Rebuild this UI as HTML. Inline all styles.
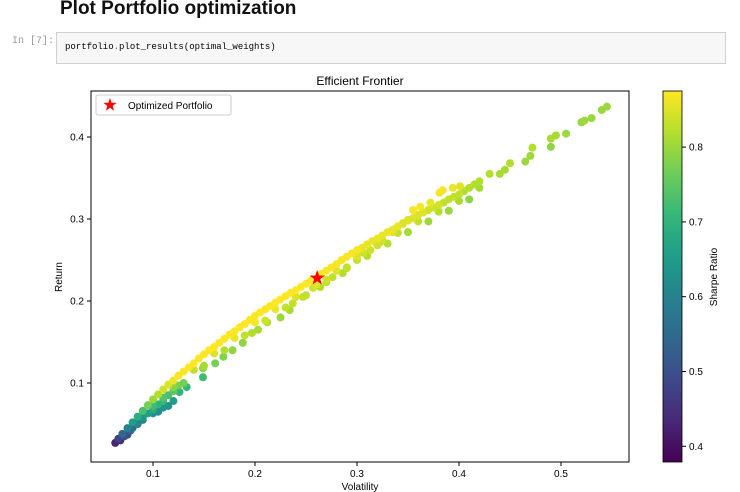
<!DOCTYPE html>
<html><head><meta charset="utf-8"><style>
body{margin:0;width:740px;height:492px;background:#fff;overflow:hidden;font-family:"Liberation Sans","DejaVu Sans",sans-serif;position:relative}
#h{position:absolute;left:60px;top:-2px;font-size:19px;font-weight:bold;color:#111}
#prompt{position:absolute;left:12px;top:36px;font:10px "Liberation Mono",monospace;color:#999}
#cell{position:absolute;left:56px;top:32px;width:668px;height:30px;background:#f7f7f7;border:1px solid #cfcfcf}
#code{position:absolute;left:8px;top:9px;font:9px "Liberation Mono",monospace;color:#000}
svg{position:absolute;left:0;top:0}
</style></head><body>
<div id="h">Plot Portfolio optimization</div>
<div id="prompt">In [7]:</div>
<div id="cell"><div id="code">portfolio<span style="color:#a2f">.</span>plot_results(optimal_weights)</div></div>
<svg id="c" width="740" height="492"></svg>
<script>
const vols=[.063,.066,.07,.075,.08,.085,.09,.095,.10,.11,.12,.13,.14,.15,.16,.17,.18,.19,.20,.21,.22,.23,.24,.25,.27,.28,.29,.30,.31,.32,.33,.34,.35,.36,.37,.38,.39,.40,.41,.42,.43,
.10,.12,.14,.16,.18,.20,.22,.24,.26,.28,.30,.32,.34,.36,.38,.40,.42,
.126,.133,.149,.149,.161,.169,.178,.188,.197,.203,.212,.225,.234,.237,.247,.257,.264,.270,.276,.286,.290,.300,.306,.313,.322,.325,.335,.345,.35,.355,.362,.372,.381,.384,.394,.401,
.085,.09,.10,.105,.11,.115,.12,.075,.068,
.44,.445,.45,.465,.47,.472,.49,.49,.495,.505,.52,.523,.53,.54,.545,
.105,.115,.125,.135,.145,.155,.165,.175,.185,.195,.205,.215,.225,.235,.245,.255,.265,.275,.285,.295,.305,.315,.325,.335,.345,.355,.365,.375,.385,.395,.405,.415,
.11,.13,.15,.17,.19,.21,.23,.25,.27,.29,.31,.33,.35,.37,.39,.41,
.08,.085,.09,.095,.10,.105,.11,.115,.12,.125,.072,.078];
const rets=[.027,.032,.038,.045,.052,.059,.066,.073,.080,.092,.103,.114,.124,.135,.144,.154,.163,.172,.182,.190,.198,.206,.213,.221,.237,.245,.254,.262,.269,.276,.284,.291,.298,.305,.311,.317,.324,.330,.338,.346,.355,
.072,.095,.116,.136,.155,.174,.190,.205,.220,.237,.254,.268,.283,.297,.309,.322,.338,
.089,.095,.118,.107,.124,.132,.140,.149,.161,.165,.174,.180,.189,.197,.205,.216,.217,.226,.229,.234,.241,.250,.259,.262,.271,.274,.284,.295,.299,.311,.315,.320,.332,.335,.338,.340,
.050,.055,.063,.065,.070,.072,.078,.037,.030,
.355,.360,.368,.370,.377,.387,.388,.398,.402,.404,.418,.420,.423,.433,.437,
.086,.098,.109,.119,.130,.140,.149,.159,.168,.177,.186,.194,.202,.210,.217,.225,.233,.241,.250,.258,.265,.273,.280,.287,.294,.301,.308,.314,.320,.327,.334,.342,
.078,.100,.121,.140,.158,.176,.192,.207,.223,.240,.255,.270,.284,.297,.310,.324,
.045,.052,.058,.063,.068,.074,.082,.085,.090,.097,.035,.042];
const sharpes=[.43,.48,.54,.60,.65,.69,.73,.77,.80,.84,.86,.87,.88,.88,.88,.88,.88,.88,.88,.88,.88,.88,.88,.88,.87,.87,.87,.87,.86,.86,.86,.86,.85,.85,.84,.84,.83,.83,.82,.82,.82,
.72,.79,.83,.85,.86,.87,.86,.85,.85,.85,.85,.84,.83,.83,.82,.81,.81,
.70,.71,.79,.72,.77,.78,.79,.79,.82,.81,.82,.80,.81,.83,.83,.84,.82,.84,.83,.82,.83,.83,.84,.84,.84,.84,.85,.85,.85,.87,.87,.86,.87,.87,.86,.85,
.59,.61,.63,.62,.64,.63,.65,.49,.44,
.81,.81,.82,.80,.80,.82,.79,.81,.81,.80,.80,.80,.80,.80,.80,
.82,.85,.87,.88,.88,.88,.88,.88,.88,.88,.88,.88,.88,.88,.88,.88,.87,.87,.87,.87,.86,.86,.86,.86,.85,.85,.85,.84,.83,.83,.82,.82,
.71,.77,.81,.82,.83,.84,.83,.83,.83,.83,.82,.82,.81,.80,.80,.79,
.56,.61,.64,.66,.68,.70,.74,.73,.75,.77,.50,.54];
const optVol=[.261], optRet=[.228];
const xTicks=[.1,.2,.3,.4,.5], yTicks=[.1,.2,.3,.4], cTicks=[.4,.5,.6,.7,.8];
const cMin=.379,cMax=.875;
const L=91,R=629,T=91,B=462;
const X=v=>51+v*1020, Y=r=>465-r*820;
const cb={x:663,w:19}, CY=s=>B-(s-cMin)/(cMax-cMin)*(B-T);
const vir=[[68,1,84],[72,40,120],[62,74,137],[49,104,142],[38,130,142],[31,158,137],[53,183,121],[109,205,89],[180,222,44],[253,231,37]];
function col(s){let t=Math.max(0,Math.min(1,(s-cMin)/(cMax-cMin)))*9,i=Math.min(8,Math.floor(t)),f=t-i,a=vir[i],b=vir[i+1];return`rgb(${a.map((v,k)=>Math.round(v+(b[k]-v)*f)).join(',')})`}
const svg=document.getElementById('c'),NS='http://www.w3.org/2000/svg';
function el(t,a,p){const e=document.createElementNS(NS,t);for(const k in a)e.setAttribute(k,a[k]);(p||svg).appendChild(e);return e}
function tx(s,a){const e=el('text',Object.assign({'font-size':10,fill:'#000','font-family':'Liberation Sans, DejaVu Sans, sans-serif'},a));e.textContent=s;return e}
let t=tx('Efficient Frontier',{x:360,y:85,'text-anchor':'middle','font-size':12});


const order=sharpes.map((s,i)=>i).sort((a,b)=>sharpes[a]-sharpes[b]);
order.forEach(i=>{const c=el('circle',{cx:X(vols[i]),cy:Y(rets[i]),r:4,fill:col(sharpes[i])});

});
function star(cx,cy,r){let p=[];for(let k=0;k<10;k++){const a=-Math.PI/2+k*Math.PI/5,rr=k%2?r*0.4:r;p.push((cx+rr*Math.cos(a)).toFixed(1)+','+(cy+rr*Math.sin(a)).toFixed(1))}return p.join(' ')}
const st=el('polygon',{points:star(X(optVol[0]),Y(optRet[0]),8),fill:'red'});


const ax=el('rect',{x:L,y:T,width:R-L,height:B-T,fill:'none',stroke:'#000','stroke-width':1});


xTicks.forEach(v=>{el('line',{x1:X(v),x2:X(v),y1:B,y2:B+4,stroke:'#000'});const e=tx(String(v),{x:X(v),y:B+15,'text-anchor':'middle'});

});
yTicks.forEach(v=>{el('line',{x1:L-4,x2:L,y1:Y(v),y2:Y(v),stroke:'#000'});const e=tx(String(v),{x:L-7,y:Y(v)+3.5,'text-anchor':'end'});

});
t=tx('Volatility',{x:360,y:490,'text-anchor':'middle'});


t=tx('Return',{x:62,y:277,'text-anchor':'middle',transform:'rotate(-90 62 277)'});


const lg=el('g',{});


el('rect',{x:96,y:95,width:135,height:20,rx:2,fill:'#fff',stroke:'#ccc'},lg);
el('polygon',{points:star(110,105,7),fill:'red'},lg);
t=tx('Optimized Portfolio',{x:128,y:109});lg.appendChild(t);
const defs=el('defs',{}),gr=el('linearGradient',{id:'g',x1:0,y1:1,x2:0,y2:0},defs);
vir.forEach((c,i)=>el('stop',{offset:i/9,'stop-color':`rgb(${c})`},gr));
const bar=el('rect',{x:cb.x,y:T,width:cb.w,height:B-T,fill:'url(#g)',stroke:'#000','stroke-width':.8});


cTicks.forEach(v=>{el('line',{x1:cb.x+cb.w,x2:cb.x+cb.w+4,y1:CY(v),y2:CY(v),stroke:'#000'});const e=tx(String(v),{x:cb.x+cb.w+7,y:CY(v)+3.5});

});
t=tx('Sharpe Ratio',{x:717,y:277,'text-anchor':'middle',transform:'rotate(-90 717 277)'});


</script>
</body></html>
